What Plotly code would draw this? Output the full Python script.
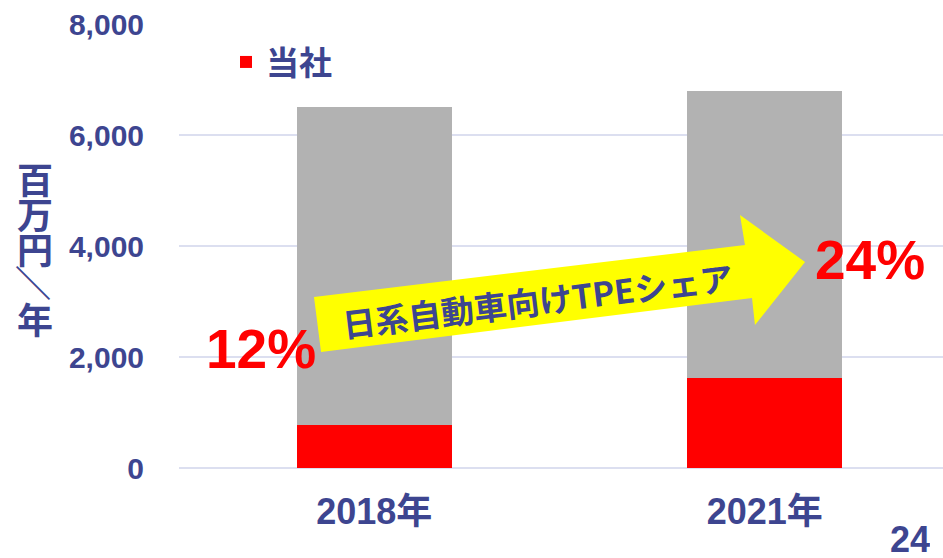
import plotly.graph_objects as go

years = ["2018年", "2021年"]
company = [780, 1630]          # 当社
others = [5720, 5170]          # 他社 (grey remainder)
y_ticks = [0, 2000, 4000, 6000, 8000]

NAVY = "#3d4590"
JP = "Noto Sans CJK JP"
NUM = "Liberation Sans, Noto Sans CJK JP"

# plot area in pixels, used to place the decorations
L, T, W, H = 179, 24, 764, 444


def px(x, y):
    return (x - L) / W, (T + H - y) / H


totals = [c + o for c, o in zip(company, others)]
shares = [f"{round(100 * c / t)}%" for c, t in zip(company, totals)]

fig = go.Figure()
fig.add_bar(x=years, y=company, name="当社", marker_color="#ff0000",
            marker_line_width=0)
fig.add_bar(x=years, y=others, name="その他", marker_color="#b2b2b2",
            marker_line_width=0, showlegend=False)

# yellow arrow
pts = [(314, 297), (745, 245), (740, 215), (805, 262), (755, 325),
       (752, 298), (321, 352)]
path = "M " + " L ".join(f"{px(a, b)[0]:.4f},{px(a, b)[1]:.4f}" for a, b in pts) + " Z"
fig.add_shape(type="path", path=path, xref="paper", yref="paper",
              fillcolor="#ffff00", line_width=0, layer="above")

ann = []
cx, cy = px(537, 300)
ann.append(dict(x=cx, y=cy, text="<b>日系自動車向けTPEシェア</b>", textangle=-7,
                font=dict(family=JP, size=33, color=NAVY)))

for (x0, y0), s in zip([(261, 349), (870, 260)], shares):
    ax_, ay_ = px(x0, y0)
    ann.append(dict(x=ax_, y=ay_, text=f"<b>{s}</b>",
                    font=dict(family="Liberation Sans", size=55, color="#ff0000")))

# vertical axis title (vertical writing, one glyph per line)
for ch, yy, ang in [("百", 178, 0), ("万", 213, 0), ("円", 248, 0), ("／", 283, 90), ("年", 318, 0)]:
    ax_, ay_ = px(35, yy)
    ann.append(dict(x=ax_, y=ay_, text=f"<b>{ch}</b>", textangle=ang,
                    font=dict(family=JP, size=36, color=NAVY)))

# page number
ax_, ay_ = px(910, 539)
ann.append(dict(x=ax_, y=ay_, text="<b>24</b>", height=30,
                font=dict(family="Liberation Sans", size=36, color=NAVY)))

for a in ann:
    a.update(xref="paper", yref="paper", showarrow=False, xanchor="center", yanchor="middle")

fig.update_layout(
    width=943, height=558,
    margin=dict(l=L, r=943 - L - W, t=T, b=558 - T - H),
    paper_bgcolor="white", plot_bgcolor="white",
    barmode="stack", bargap=0.603,
    annotations=ann,
    legend=dict(x=px(226, 0)[0], y=px(0, 34)[1], xanchor="left", yanchor="top",
                bgcolor="rgba(0,0,0,0)",
                font=dict(family=JP, size=33, color=NAVY, weight="bold")),
    xaxis=dict(range=[-0.5, -0.5 + W / 390.5], showgrid=False, zeroline=False,
               showline=False, ticks="", ticklabelstandoff=19,
               tickfont=dict(family=NUM, size=36, color=NAVY, weight="bold")),
    yaxis=dict(range=[0, 8000], tickvals=y_ticks, tickformat=",d",
               showgrid=True, gridcolor="#dcdff0", gridwidth=2,
               zeroline=True, zerolinecolor="#dcdff0", zerolinewidth=2,
               ticklabelstandoff=34,
               tickfont=dict(family=NUM, size=30, color=NAVY, weight="bold")),
)

fig.write_html("out.html", config={"displayModeBar": False},
               post_script="document.body.style.margin='0px';")
